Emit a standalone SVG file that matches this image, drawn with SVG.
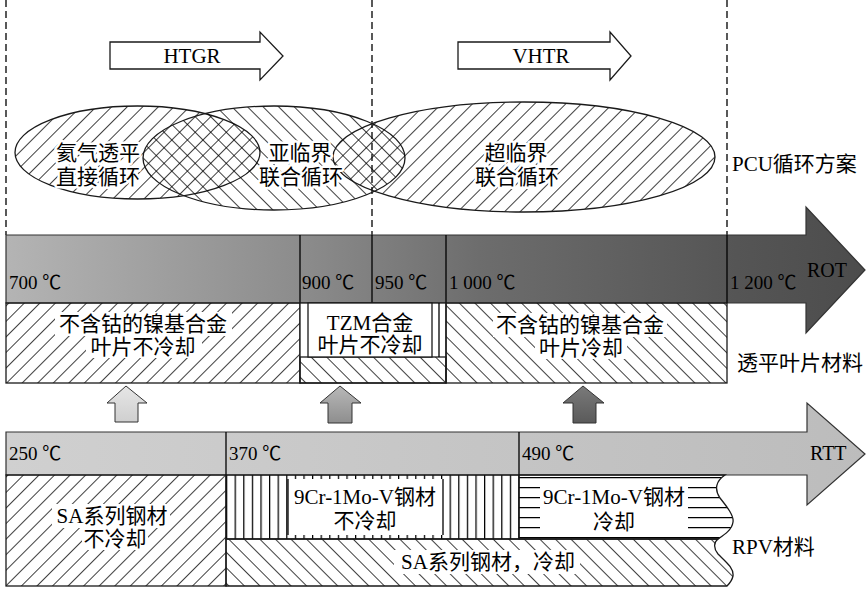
<svg xmlns="http://www.w3.org/2000/svg" width="866" height="590" viewBox="0 0 866 590">
<style>
.t{font-family:"Liberation Serif","Noto Sans CJK SC",serif;fill:#000}
.c{font-size:21px;text-anchor:middle;dominant-baseline:central}
.n{font-size:19px}
.halo{stroke:#fff;stroke-width:5;paint-order:stroke;stroke-linejoin:round}
.ln{stroke:#000;stroke-width:1.3;fill:none}
.box{stroke:#1a1a1a;stroke-width:1.3}
.dash{stroke:#000;stroke-width:1.3;stroke-dasharray:7 4;fill:none}
</style>
<defs>
<pattern id="hf" width="11" height="11" patternUnits="userSpaceOnUse" patternTransform="rotate(45)"><line x1="0" y1="0" x2="0" y2="11" stroke="#000" stroke-width="1.5"/></pattern>
<pattern id="hb" width="11" height="11" patternUnits="userSpaceOnUse" patternTransform="rotate(-45)"><line x1="0" y1="0" x2="0" y2="11" stroke="#000" stroke-width="1.5"/></pattern>
<pattern id="hv" x="226" y="0" width="8.6" height="10" patternUnits="userSpaceOnUse"><line x1="0.6" y1="0" x2="0.6" y2="10" stroke="#000" stroke-width="1.3"/></pattern>
<pattern id="hh" x="0" y="477" width="10" height="10" patternUnits="userSpaceOnUse"><line x1="0" y1="0.6" x2="10" y2="0.6" stroke="#000" stroke-width="1.3"/></pattern>
<linearGradient id="rotG" x1="6" y1="0" x2="866" y2="0" gradientUnits="userSpaceOnUse">
<stop offset="0" stop-color="#b4b4b4"/><stop offset="0.35" stop-color="#8b8b8b"/><stop offset="0.55" stop-color="#6d6d6d"/><stop offset="0.85" stop-color="#555"/><stop offset="1" stop-color="#4c4c4c"/>
</linearGradient>
<linearGradient id="rttG" x1="6" y1="0" x2="866" y2="0" gradientUnits="userSpaceOnUse">
<stop offset="0" stop-color="#d0d0d0"/><stop offset="1" stop-color="#bcbcbc"/>
</linearGradient>
<linearGradient id="a1" x1="0" y1="0" x2="0" y2="1"><stop offset="0" stop-color="#e6e6e6"/><stop offset="1" stop-color="#cfcfcf"/></linearGradient>
<linearGradient id="a2" x1="0" y1="0" x2="0" y2="1"><stop offset="0" stop-color="#b8b8b8"/><stop offset="1" stop-color="#8e8e8e"/></linearGradient>
<linearGradient id="a3" x1="0" y1="0" x2="0" y2="1"><stop offset="0" stop-color="#7a7a7a"/><stop offset="1" stop-color="#5a5a5a"/></linearGradient>
</defs>
<rect width="866" height="590" fill="#fff"/>

<g id="dividers">
<line class="dash" x1="6" y1="0" x2="6" y2="235"/>
<line class="dash" x1="372" y1="0" x2="372" y2="235"/>
<line class="dash" x1="727" y1="0" x2="727" y2="235"/>
</g>

<g id="htgr">
<path class="box" fill="#fff" d="M110 42 H260 V32 L283 56 L260 80 V69 H110 Z"/>
<text class="t" x="192" y="63" font-size="21" text-anchor="middle">HTGR</text>
</g>
<g id="vhtr">
<path class="box" fill="#fff" d="M458 42 H610 V32 L631 56 L610 80 V69 H458 Z"/>
<text class="t" x="541" y="63" font-size="21" text-anchor="middle">VHTR</text>
</g>

<g id="cycle-helium">
<ellipse cx="137.5" cy="152.5" rx="122.5" ry="46.5" fill="url(#hf)" class="box"/>
</g>
<g id="cycle-subcritical">
<ellipse cx="274" cy="158" rx="131" ry="52" fill="url(#hb)" class="box"/>
</g>
<g id="cycle-supercritical">
<ellipse cx="524" cy="157" rx="191" ry="55" fill="url(#hf)" class="box"/>
</g>
<g id="cycle-labels">
<text class="t c halo" x="98" y="153">氦气透平</text>
<text class="t c halo" x="98" y="177">直接循环</text>
<text class="t c halo" x="300" y="153">亚临界</text>
<text class="t c halo" x="301" y="177">联合循环</text>
<text class="t c halo" x="516" y="153">超临界</text>
<text class="t c halo" x="517" y="177">联合循环</text>
<text class="t" x="732" y="164" font-size="21" dominant-baseline="central">PCU循环方案</text>
</g>

<g id="rot-bar">
<path d="M6 235 H806 V207 L865 270 L806 333 V303 H6 Z" fill="url(#rotG)" stroke="#333" stroke-width="1.2"/>
<line class="ln" x1="300" y1="235" x2="300" y2="303"/>
<line class="ln" x1="372" y1="235" x2="372" y2="303"/>
<line class="ln" x1="446" y1="235" x2="446" y2="303"/>
<line class="ln" x1="727" y1="235" x2="727" y2="303"/>
<text class="t n" x="9" y="289">700 ℃</text>
<text class="t n" x="302" y="289">900 ℃</text>
<text class="t n" x="375" y="289">950 ℃</text>
<text class="t n" x="449" y="289">1 000 ℃</text>
<text class="t n" x="730" y="289">1 200 ℃</text>
<text class="t" x="807" y="277" font-size="20">ROT</text>
</g>

<g id="blade-uncooled">
<rect x="6" y="303" width="294" height="80" fill="url(#hf)" class="box"/>
<rect x="55" y="312" width="177" height="24" fill="#fff"/>
<rect x="86" y="336" width="116" height="22" fill="#fff"/>
<text class="t c" x="143" y="324">不含钴的镍基合金</text>
<text class="t c" x="143" y="347">叶片不冷却</text>
</g>
<g id="blade-tzm">
<rect x="300" y="303" width="146" height="80" fill="#fff" class="box"/>
<rect x="300" y="357" width="146" height="26" fill="url(#hb)" class="box"/>
<rect x="308" y="303" width="124" height="54" fill="#fff" class="box"/>
<line class="ln" x1="439" y1="303" x2="439" y2="357"/>
<text class="t c" x="370" y="323">TZM合金</text>
<text class="t c" x="370" y="345">叶片不冷却</text>
</g>
<g id="blade-cooled">
<rect x="446" y="303" width="281" height="80" fill="url(#hb)" class="box"/>
<rect x="493" y="313" width="174" height="24" fill="#fff"/>
<rect x="535" y="337" width="92" height="22" fill="#fff"/>
<text class="t c" x="580" y="325">不含钴的镍基合金</text>
<text class="t c" x="581" y="348">叶片冷却</text>
</g>
<text class="t" x="737" y="363" font-size="21" dominant-baseline="central">透平叶片材料</text>

<g id="connectors">
<path d="M126 386 L147 403 H138 V422 H115 V403 H107 Z" fill="url(#a1)" stroke="#333" stroke-width="1"/>
<path d="M340 386 L361 403 H352 V423 H328 V403 H320 Z" fill="url(#a2)" stroke="#333" stroke-width="1"/>
<path d="M583 386 L604 403 H596 V423 H573 V403 H563 Z" fill="url(#a3)" stroke="#333" stroke-width="1"/>
</g>

<g id="rtt-bar">
<path d="M6 432 H807 V403 L865 454 L807 505 V475 H6 Z" fill="url(#rttG)" stroke="#333" stroke-width="1.2"/>
<line class="ln" x1="226" y1="432" x2="226" y2="475"/>
<line class="ln" x1="519" y1="432" x2="519" y2="475"/>
<text class="t n" x="9" y="460">250 ℃</text>
<text class="t n" x="229" y="460">370 ℃</text>
<text class="t n" x="522" y="460">490 ℃</text>
<text class="t" x="810" y="460" font-size="20">RTT</text>
</g>

<g id="rpv-sa-uncooled">
<rect x="6" y="475" width="220" height="111" fill="url(#hf)" class="box"/>
<rect x="52" y="504" width="118" height="24" fill="#fff"/>
<rect x="82" y="528" width="66" height="22" fill="#fff"/>
<text class="t c" x="112" y="516">SA系列钢材</text>
<text class="t c" x="115" y="539">不冷却</text>
</g>
<g id="rpv-sa-cooled">
<path d="M226 539 H718 C714 542 713 548 718 554 C726 562 734 568 733 576 C732 581 729 584 727 586 H226 Z" fill="url(#hb)" class="box"/>
<rect x="394" y="550" width="186" height="24" fill="#fff"/>
<text class="t c" x="488" y="562">SA系列钢材，冷却</text>
</g>
<g id="rpv-9cr-uncooled">
<rect x="226" y="475" width="293" height="64" fill="url(#hv)" class="box"/>
<rect x="288" y="479" width="155" height="56" fill="#fff"/>
<line class="ln" x1="288" y1="479" x2="288" y2="535"/>
<line class="ln" x1="443" y1="479" x2="443" y2="535"/>
<text class="t c" x="365" y="497">9Cr-1Mo-V钢材</text>
<text class="t c" x="365" y="521">不冷却</text>
</g>
<g id="rpv-9cr-cooled">
<path d="M519 475 H725 C716 481 714 489 720 498 C728 508 734 516 733 522 C732 530 724 535 718 539 H519 Z" fill="url(#hh)" class="box"/>
<rect x="540" y="480" width="148" height="52" fill="#fff"/>
<text class="t c" x="614" y="497">9Cr-1Mo-V钢材</text>
<text class="t c" x="614" y="522">冷却</text>
</g>
<text class="t" x="732" y="547" font-size="21" dominant-baseline="central">RPV材料</text>
</svg>
